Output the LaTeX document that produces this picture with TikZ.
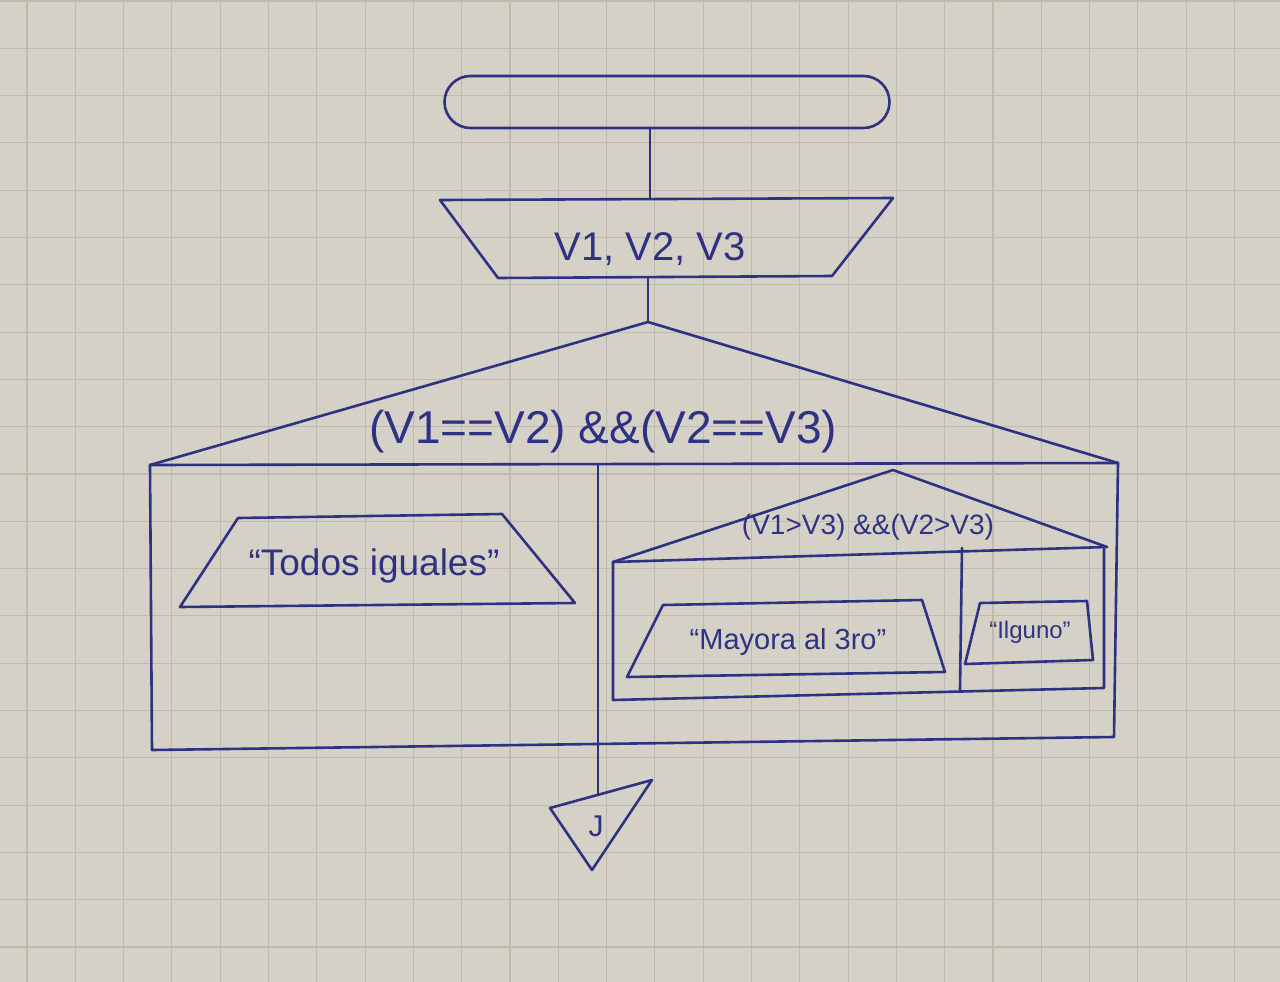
\documentclass[tikz,border=0pt]{standalone}
\usepackage{fontspec}
\setmainfont{Liberation Sans}
\usetikzlibrary{shapes.misc}
\definecolor{ink}{HTML}{2E3282}
\definecolor{paper}{HTML}{D6D1C7}
\definecolor{gridc}{HTML}{BFB9AE}
\tikzset{
  inkline/.style={draw=ink, line width=2.6pt, line join=round, line cap=round},
  lbl/.style={text=ink, inner sep=0pt},
  gridline/.style={draw=gridc, line width=1.1pt}
}
\begin{document}
\begin{tikzpicture}[x=1pt,y=-1pt]
\fill[paper] (0,0) rectangle (1280,982);
\useasboundingbox (0,0) rectangle (1280,982);
% paper grid
\foreach \i in {0,...,26} \draw[gridline] ({27+48.3*\i},0) -- ({27+48.3*\i},982);
\foreach \j in {0,...,20} \draw[gridline] (0,{1+47.3*\j}) -- (1280,{1+47.3*\j});

% start terminator
\node[inkline, rounded rectangle, minimum width=445pt, minimum height=52pt, inner sep=0pt] (start) at (667,102) {};

% input
\coordinate (iTL) at (440,200);
\coordinate (iTR) at (893,198);
\coordinate (iBR) at (832,276);
\coordinate (iBL) at (498,278);
\coordinate (iTop) at (650,199);
\coordinate (iBot) at (648,277);
\draw[inkline] (iTL) -- (iTR) -- (iBR) -- (iBL) -- cycle;
\node[lbl, font=\fontsize{40}{40}\selectfont] (vars) at (650,249) {V1, V2, V3};
\draw[inkline] (start.south -| iTop) -- (iTop);

% main decision
\coordinate (dA) at (648,322);
\coordinate (bL) at (150,465);
\coordinate (bR) at (1118,463);
\coordinate (bBL) at (152,750);
\coordinate (bBR) at (1114,737);
\draw[inkline] (iBot) -- (dA);
\draw[inkline] (bL) -- (dA) -- (bR);
\draw[inkline] (bL) -- (bR);
\draw[inkline] (bL) -- (bBL) -- (bBR) -- (bR);
\node[lbl, font=\fontsize{46}{46}\selectfont] (cond1) at (603,432) {(V1==V2) \&\&(V2==V3)};

% divider
\coordinate (dvT) at (598,464);
\coordinate (dvB) at (598,746);
\draw[inkline] (dvT) -- (dvB);

% left branch output
\draw[inkline] (238,518) -- (502,514) -- (575,603) -- (180,607) -- cycle;
\node[lbl, font=\fontsize{37}{37}\selectfont] (out1) at (374,566) {“Todos iguales”};

% nested decision
\coordinate (nA) at (893,470);
\coordinate (nL) at (613,562);
\coordinate (nR) at (1107,547);
\coordinate (nBL) at (613,700);
\coordinate (nBR) at (1104,688);
\draw[inkline] (nL) -- (nA) -- (nR);
\draw[inkline] (nL) -- (nR);
\draw[inkline] (nL) -- (nBL) -- (nBR) -- (1104,549);
\node[lbl, font=\fontsize{28}{28}\selectfont] (cond2) at (868,527) {(V1>V3) \&\&(V2>V3)};
\coordinate (ndT) at (962,548);
\coordinate (ndB) at (960,690);
\draw[inkline] (ndT) -- (ndB);

% nested outputs
\draw[inkline] (663,605) -- (922,600) -- (945,672) -- (627,677) -- cycle;
\node[lbl, font=\fontsize{29}{29}\selectfont] (out2) at (788,642) {“Mayora al 3ro”};
\draw[inkline] (980,603) -- (1087,601) -- (1093,660) -- (965,664) -- cycle;
\node[lbl, font=\fontsize{24}{24}\selectfont] (out3) at (1030,632) {“Ilguno”};

% end connector
\coordinate (eTL) at (550,808);
\coordinate (eTR) at (652,780);
\coordinate (eA) at (592,870);
\coordinate (eTop) at (598,795);
\draw[inkline] (dvB) -- (eTop);
\draw[inkline] (eTL) -- (eTR) -- (eA) -- cycle;
\node[lbl, font=\fontsize{30}{30}\selectfont] (fin) at (596,826) {J};
\end{tikzpicture}
\end{document}
